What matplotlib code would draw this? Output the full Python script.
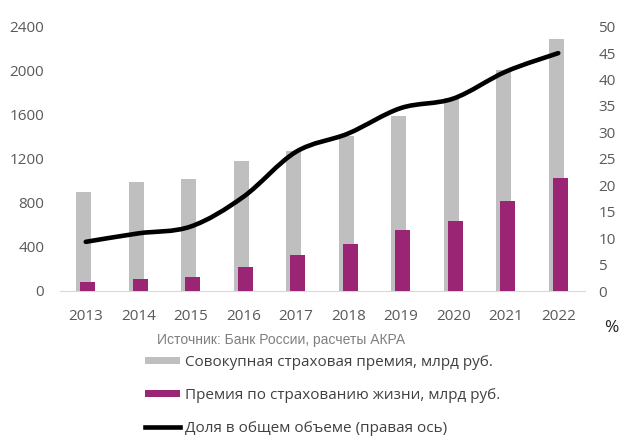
import matplotlib
matplotlib.use("Agg")
import matplotlib.pyplot as plt
from matplotlib.path import Path
from matplotlib.patches import PathPatch, Patch
from matplotlib.lines import Line2D
import numpy as np

years = ["2013", "2014", "2015", "2016", "2017", "2018", "2019", "2020", "2021", "2022"]
total_premium = [900, 990, 1020, 1180, 1270, 1410, 1590, 1750, 2010, 2290]
life_premium = [85, 106, 127, 218, 324, 427, 551, 638, 818, 1030]
life_share = [9.3, 10.9, 12.2, 17.8, 26.3, 29.8, 34.6, 36.4, 41.5, 45.0]

left_ticks = [0, 400, 800, 1200, 1600, 2000, 2400]
right_ticks = [0, 5, 10, 15, 20, 25, 30, 35, 40, 45, 50]

label_total = "Совокупная страховая премия, млрд руб."
label_life = "Премия по страхованию жизни, млрд руб."
label_share = "Доля в общем объеме (правая ось)"
source_text = "Источник: Банк России, расчеты АКРА"

GRAY = "#BFBFBF"
PURPLE = "#9B2575"
TICK = "#595959"

plt.rcParams['font.family'] = ['Open Sans', 'DejaVu Sans']

fig = plt.figure(figsize=(6.4, 4.43), dpi=100)
W, H = 640, 443
ax = fig.add_axes([59.5 / W, (H - 291) / H, (584.5 - 59.5) / W, (291 - 26.7) / H])
ax2 = ax.twinx()

x = np.arange(len(years))
ax.bar(x - 0.04, total_premium, width=0.29, color=GRAY, zorder=2)
ax.bar(x + 0.04, life_premium, width=0.29, color=PURPLE, zorder=3)

ax.set_xlim(-0.5, len(years) - 0.5)
ax.set_ylim(0, 2400)
ax.set_yticks(left_ticks)
ax.set_xticks(x)
ax.set_xticklabels(years)
ax.tick_params(axis='both', length=0, colors=TICK, labelsize=11)
ax.tick_params(axis='x', pad=13)
ax.tick_params(axis='y', pad=11)
for s in ["top", "left", "right"]:
    ax.spines[s].set_visible(False)
ax.spines["bottom"].set_color("#D9D9D9")

# smoothed line (Excel-like Catmull-Rom via cubic Bezier)
pts = np.column_stack([x, life_share]).astype(float)
verts = [tuple(pts[0])]
codes = [Path.MOVETO]
n = len(pts)
for i in range(n - 1):
    p0 = pts[i - 1] if i > 0 else pts[i]
    p1 = pts[i]
    p2 = pts[i + 1]
    p3 = pts[i + 2] if i + 2 < n else pts[i + 1]
    c1 = p1 + (p2 - p0) / 6.0
    c2 = p2 - (p3 - p1) / 6.0
    verts += [tuple(c1), tuple(c2), tuple(p2)]
    codes += [Path.CURVE4] * 3
ax2.add_patch(PathPatch(Path(verts, codes), facecolor='none', edgecolor='black',
                        lw=3.3, capstyle='round', joinstyle='round', zorder=4))
ax2.set_ylim(0, 50)
ax2.set_yticks(right_ticks)
ax2.tick_params(axis='y', length=0, colors=TICK, labelsize=11, pad=10)
for s in ["top", "left", "right", "bottom"]:
    ax2.spines[s].set_visible(False)
ax.set_zorder(1)
ax2.set_zorder(2)
ax2.patch.set_visible(False)

fig.text(611 / W, 1 - 328 / H, "%", ha='center', va='center', fontsize=12.5, color="#262626")
fig.text(157 / W, 1 - 340 / H, source_text, ha='left', va='center', fontsize=10,
         color="#7F7F7F", family=['Liberation Sans', 'DejaVu Sans'])

handles = [Patch(facecolor=GRAY), Patch(facecolor=PURPLE), Line2D([], [], color='black', lw=3.3)]
leg = fig.legend(handles, [label_total, label_life, label_share],
                 loc='upper left', bbox_to_anchor=(145 / W, 1 - 355 / H),
                 frameon=False, fontsize=11, handlelength=2.3, handleheight=0.35,
                 handletextpad=0.3, labelspacing=1.17, borderaxespad=0, borderpad=0)
for t in leg.get_texts():
    t.set_color("#404040")

fig.savefig("out.png", dpi=100)
